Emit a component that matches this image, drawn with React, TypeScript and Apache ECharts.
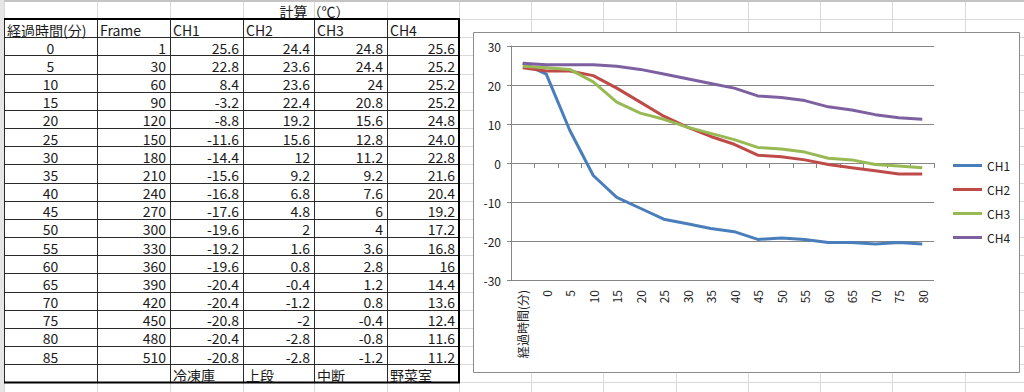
import React, { useEffect, useRef } from "react";
import * as echarts from "echarts";

const tableTitle = "計算（℃）";
const headerLabels = ["経過時間(分)", "Frame", "CH1", "CH2", "CH3", "CH4"];
const minutes = [0, 5, 10, 15, 20, 25, 30, 35, 40, 45, 50, 55, 60, 65, 70, 75, 80, 85];
const frames = [1, 30, 60, 90, 120, 150, 180, 210, 240, 270, 300, 330, 360, 390, 420, 450, 480, 510];
const ch1 = [25.6, 22.8, 8.4, -3.2, -8.8, -11.6, -14.4, -15.6, -16.8, -17.6, -19.6, -19.2, -19.6, -20.4, -20.4, -20.8, -20.4, -20.8];
const ch2 = [24.4, 23.6, 23.6, 22.4, 19.2, 15.6, 12, 9.2, 6.8, 4.8, 2, 1.6, 0.8, -0.4, -1.2, -2, -2.8, -2.8];
const ch3 = [24.8, 24.4, 24, 20.8, 15.6, 12.8, 11.2, 9.2, 7.6, 6, 4, 3.6, 2.8, 1.2, 0.8, -0.4, -0.8, -1.2];
const ch4 = [25.6, 25.2, 25.2, 25.2, 24.8, 24.0, 22.8, 21.6, 20.4, 19.2, 17.2, 16.8, 16, 14.4, 13.6, 12.4, 11.6, 11.2];
const locations = ["冷凍庫", "上段", "中断", "野菜室"];
const seriesNames = ["CH1", "CH2", "CH3", "CH4"];
const chartCategories = ["経過時間(分)", "0", "5", "10", "15", "20", "25", "30", "35", "40", "45", "50", "55", "60", "65", "70", "75", "80"];
const displayOverrides: Record<string, string> = { "5:5": "24.0" };

const seriesColors = ["#4A7EBB", "#BE4B48", "#98B954", "#7D60A0"];
const FONT = '"Noto Sans CJK JP", "Noto Sans", sans-serif';

function buildGraphics() {
  const els: any[] = [];
  const colX = [4, 97, 170, 243, 314, 387, 459, 531, 603, 676, 748, 820, 892, 965, 1037];
  const rowTop = 19;
  const rowH = 18.17;
  const nRows = 20;
  const bottomY = rowTop + rowH * nRows;
  const tableCols = colX.slice(0, 7);

  els.push({ type: "rect", z: -10, shape: { x: 0, y: 0, width: 1024, height: 392 }, style: { fill: "#ffffff" } });
  for (const x of colX) {
    els.push({ type: "line", z: -9, shape: { x1: x + 0.5, y1: 0, x2: x + 0.5, y2: 392 }, style: { stroke: "#d9d9d9", lineWidth: 1 } });
  }
  for (let k = -1; k <= 21; k++) {
    const y = Math.round(rowTop + rowH * k) + 0.5;
    els.push({ type: "line", z: -9, shape: { x1: 0, y1: y, x2: 1024, y2: y }, style: { stroke: "#d9d9d9", lineWidth: 1 } });
  }
  els.push({ type: "rect", z: -8, shape: { x: 0, y: 0, width: 1024, height: 2 }, style: { fill: "#c4c4c4" } });
  els.push({ type: "rect", z: -8, shape: { x: 0, y: 0, width: 4, height: 392 }, style: { fill: "#e6e6e6" } });

  els.push({ type: "rect", z: -7, shape: { x: 4, y: rowTop, width: 455, height: bottomY - rowTop }, style: { fill: "#ffffff" } });
  for (let i = 1; i < nRows; i++) {
    const y = Math.round(rowTop + rowH * i) + 0.5;
    els.push({ type: "line", z: -6, shape: { x1: 4, y1: y, x2: 459, y2: y }, style: { stroke: "#2a2a2a", lineWidth: 1 } });
  }
  for (let c = 0; c < tableCols.length - 1; c++) {
    const x = tableCols[c] + 0.5;
    els.push({ type: "line", z: -6, shape: { x1: x, y1: rowTop, x2: x, y2: bottomY }, style: { stroke: "#2a2a2a", lineWidth: 1 } });
  }
  els.push({ type: "line", z: -5, shape: { x1: 4, y1: rowTop, x2: 460, y2: rowTop }, style: { stroke: "#000", lineWidth: 2 } });
  els.push({ type: "line", z: -5, shape: { x1: 4, y1: bottomY, x2: 460, y2: bottomY }, style: { stroke: "#000", lineWidth: 2 } });
  els.push({ type: "line", z: -5, shape: { x1: 459, y1: rowTop, x2: 459, y2: bottomY }, style: { stroke: "#000", lineWidth: 2 } });

  const txt = (text: string, x: number, y: number, align: string) => ({
    type: "text",
    z: -4,
    style: { text, x, y, fill: "#1a1a1a", font: `14px ${FONT}`, textAlign: align, textVerticalAlign: "middle" },
  });

  els.push(txt(tableTitle, (tableCols[2] + tableCols[6]) / 2, 10.5, "center"));
  const headerMid = rowTop + rowH / 2 + 1.5;
  headerLabels.forEach((h, c) => {
    els.push(txt(h, c === 0 ? 7 : tableCols[c] + 3, headerMid, "left"));
  });
  const chans = [ch1, ch2, ch3, ch4];
  minutes.forEach((m, r) => {
    const y = rowTop + rowH * (r + 1) + rowH / 2 + 1.5;
    els.push(txt(String(m), (tableCols[0] + tableCols[1]) / 2, y, "center"));
    els.push(txt(String(frames[r]), tableCols[2] - 4, y, "right"));
    chans.forEach((arr, ci) => {
      const key = `${ci + 2}:${r}`;
      const s = displayOverrides[key] ?? String(arr[r]);
      els.push(txt(s, tableCols[ci + 3] - 4, y, "right"));
    });
  });
  const footY = rowTop + rowH * (nRows - 1) + rowH / 2 + 1.5;
  locations.forEach((loc, i) => {
    els.push(txt(loc, tableCols[i + 2] + 3, footY, "left"));
  });

  els.push({ type: "rect", z: -3, shape: { x: 473.5, y: 32.5, width: 546, height: 340 }, style: { fill: "#ffffff", stroke: "#8c8c8c", lineWidth: 1 } });
  return els;
}

export default function App() {
  const ref = useRef<HTMLDivElement>(null);
  useEffect(() => {
    if (!ref.current) return;
    const chart = echarts.init(ref.current, undefined, { renderer: "svg" });
    const axisColor = "#868686";
    const chans = [ch1, ch2, ch3, ch4];
    chart.setOption({
      animation: false,
      backgroundColor: "#ffffff",
      textStyle: { fontFamily: FONT },
      graphic: { elements: buildGraphics() },
      grid: { left: 511, right: 90, top: 46, bottom: 112, containLabel: false },
      legend: {
        orient: "vertical",
        left: 953,
        top: 159.5,
        padding: 0,
        icon: "rect",
        itemWidth: 29,
        itemHeight: 3,
        itemGap: 12,
        data: seriesNames,
        textStyle: { fontSize: 12, color: "#222", fontFamily: FONT },
      },
      xAxis: [
        {
          type: "category",
          data: chartCategories,
          position: "bottom",
          boundaryGap: true,
          axisLine: { show: false, onZero: false },
          axisTick: { show: false },
          splitLine: { show: false },
          axisLabel: { rotate: 90, margin: 10, interval: 0, fontSize: 12, color: "#222", fontFamily: FONT },
        },
        {
          type: "category",
          data: chartCategories,
          position: "bottom",
          boundaryGap: true,
          axisLine: { show: true, onZero: true, lineStyle: { color: axisColor, width: 1 } },
          axisTick: { show: true, length: 5, interval: 0, lineStyle: { color: axisColor } },
          axisLabel: { show: false },
          splitLine: { show: false },
        },
      ],
      yAxis: {
        type: "value",
        min: -30,
        max: 30,
        interval: 10,
        axisLine: { show: true, lineStyle: { color: axisColor } },
        axisTick: { show: true, length: 4, lineStyle: { color: axisColor } },
        splitLine: { show: true, lineStyle: { color: axisColor, width: 1 } },
        axisLabel: { margin: 10, fontSize: 12, color: "#222", fontFamily: FONT },
      },
      series: seriesNames.map((name, i) => ({
        type: "line",
        name,
        data: chans[i].slice(0, chartCategories.length),
        xAxisIndex: 0,
        yAxisIndex: 0,
        symbol: "none",
        smooth: false,
        color: seriesColors[i],
        lineStyle: { width: 3, color: seriesColors[i], join: "round" },
        itemStyle: { color: seriesColors[i] },
        z: 3,
      })),
    });
    return () => chart.dispose();
  }, []);
  return <div ref={ref} style={{ position: "fixed", left: 0, top: 0, width: 1024, height: 392 }} />;
}
